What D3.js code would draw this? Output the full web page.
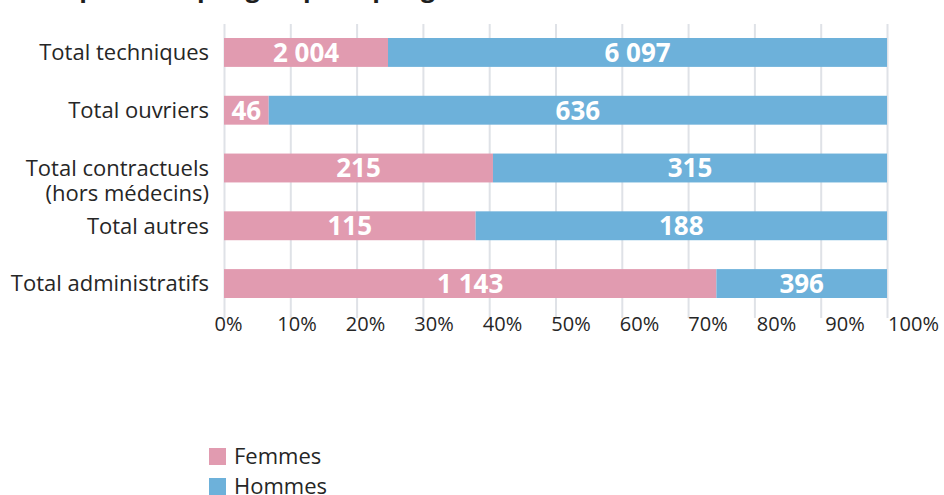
<!DOCTYPE html>
<html>
<head>
<meta charset="utf-8">
<script src="https://cdn.jsdelivr.net/npm/d3@7"></script>
<style>
  body { margin: 0; background: #fff; }
  text { font-family: "Open Sans", sans-serif; }
</style>
</head>
<body>
<script>
// data
var categories = ["Total techniques", "Total ouvriers", "Total contractuels\n(hors médecins)", "Total autres", "Total administratifs"];
var femmes = [2004, 46, 215, 115, 1143];
var hommes = [6097, 636, 315, 188, 396];
var tickValues = [0, 0.1, 0.2, 0.3, 0.4, 0.5, 0.6, 0.7, 0.8, 0.9, 1];
var seriesNames = ["Femmes", "Hommes"];
var colors = ["#e19bb0", "#6db1da"];

var width = 944, height = 495;

var svg = d3.select("body").append("svg")
    .attr("width", width)
    .attr("height", height);

// cut-off title at the top
svg.append("text")
    .attr("x", 48)
    .attr("y", -3)
    .style("font-size", "25px")
    .style("font-weight", "bold")
    .style("fill", "#1e1e1e")
    .text("Répartition par groupe et par genre");

// scales
var x = d3.scaleLinear().domain([0, 1]).range([224, 887]);
var xTick = d3.scaleLinear().domain([0, 1]).range([228, 913]);
var y = d3.scaleBand().domain(d3.range(categories.length)).range([38, 298]).paddingInner(0.5);

// gridlines
var grid = svg.append("g")
    .attr("transform", "translate(0,318)")
    .call(d3.axisBottom(x).tickValues(tickValues).tickSize(-294).tickFormat(""));
grid.select(".domain").remove();
grid.selectAll("line").attr("stroke", "#dfe2e7").attr("stroke-width", 2);

// build stacked shares
var rows = categories.map(function (c, i) {
    var total = femmes[i] + hommes[i];
    return [
        { i: i, s: 0, v: femmes[i], x0: 0, x1: femmes[i] / total },
        { i: i, s: 1, v: hommes[i], x0: femmes[i] / total, x1: 1 }
    ];
});
var segs = [].concat.apply([], rows);

var fmt = d3.formatLocale({ decimal: ",", thousands: " ", grouping: [3], currency: ["", "€"] }).format(",d");

svg.append("g").selectAll("rect")
    .data(segs)
    .enter().append("rect")
    .attr("x", function (d) { return x(d.x0); })
    .attr("width", function (d) { return x(d.x1) - x(d.x0); })
    .attr("y", function (d) { return y(d.i); })
    .attr("height", y.bandwidth())
    .attr("fill", function (d) { return colors[d.s]; });

svg.append("g").selectAll("text")
    .data(segs)
    .enter().append("text")
    .attr("x", function (d) { return (x(d.x0) + x(d.x1)) / 2; })
    .attr("y", function (d) { return y(d.i) + y.bandwidth() / 2; })
    .attr("dy", "0.36em")
    .attr("text-anchor", "middle")
    .style("font-size", "26px")
    .style("font-weight", "bold")
    .style("fill", "#fff")
    .text(function (d) { return fmt(d.v); });

// category labels
var labels = svg.append("g").selectAll("text")
    .data(categories)
    .enter().append("text")
    .attr("x", 209)
    .attr("y", function (d, i) { return y(i) + y.bandwidth() / 2; })
    .attr("text-anchor", "end")
    .style("font-size", "22px")
    .style("fill", "#262626");
labels.selectAll("tspan")
    .data(function (d) { return d.split("\n"); })
    .enter().append("tspan")
    .attr("x", 209)
    .attr("dy", function (d, j) { return j === 0 ? "0.36em" : "25px"; })
    .text(function (d) { return d; });

// tick labels
var ax = svg.append("g")
    .attr("transform", "translate(0,317)")
    .call(d3.axisBottom(xTick).tickValues(tickValues).tickSize(0).tickPadding(0)
        .tickFormat(function (d) { return Math.round(d * 100) + "%"; }));
ax.select(".domain").remove();
ax.selectAll("text")
    .attr("dy", "0.72em")
    .style("font-size", "20px")
    .style("font-family", "'Open Sans', sans-serif")
    .style("fill", "#262626");

// legend
var legend = svg.append("g").selectAll("g")
    .data(seriesNames)
    .enter().append("g")
    .attr("transform", function (d, i) { return "translate(209," + (448 + i * 30) + ")"; });
legend.append("rect")
    .attr("width", 17)
    .attr("height", 17)
    .attr("fill", function (d, i) { return colors[i]; });
legend.append("text")
    .attr("x", 25)
    .attr("y", 16)
    .style("font-size", "22px")
    .style("fill", "#262626")
    .text(function (d) { return d; });
</script>
</body>
</html>
